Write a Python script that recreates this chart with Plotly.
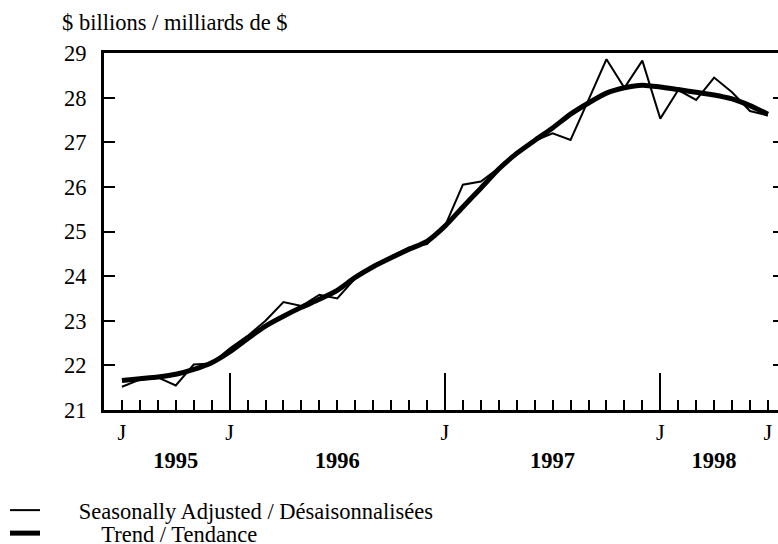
import plotly.graph_objects as go

# Monthly observations, July 1995 .. July 1998 (index 0 = July 1995)
month_index = list(range(37))
month_names = [
    "1995-07", "1995-08", "1995-09", "1995-10", "1995-11", "1995-12",
    "1996-01", "1996-02", "1996-03", "1996-04", "1996-05", "1996-06",
    "1996-07", "1996-08", "1996-09", "1996-10", "1996-11", "1996-12",
    "1997-01", "1997-02", "1997-03", "1997-04", "1997-05", "1997-06",
    "1997-07", "1997-08", "1997-09", "1997-10", "1997-11", "1997-12",
    "1998-01", "1998-02", "1998-03", "1998-04", "1998-05", "1998-06",
    "1998-07",
]

seasonally_adjusted = [
    21.52, 21.68, 21.73, 21.55, 22.02, 22.04,
    22.38, 22.66, 23.00, 23.42, 23.33, 23.58,
    23.50, 23.95, 24.22, 24.44, 24.64, 24.72,
    25.12, 26.05, 26.12, 26.42, 26.78, 27.03,
    27.20, 27.05, 27.95, 28.86, 28.22, 28.83,
    27.53, 28.17, 27.95, 28.45, 28.12, 27.70,
    27.60,
]

trend = [
    21.66, 21.70, 21.74, 21.80, 21.91, 22.06,
    22.30, 22.60, 22.88, 23.10, 23.30, 23.48,
    23.68, 23.97, 24.21, 24.41, 24.60, 24.78,
    25.12, 25.55, 25.97, 26.40, 26.75, 27.04,
    27.32, 27.63, 27.88, 28.10, 28.22, 28.28,
    28.24, 28.18, 28.12, 28.06, 27.97, 27.82,
    27.63,
]

y_tick_values = [21, 22, 23, 24, 25, 26, 27, 28, 29]
y_inner_ticks = [22, 23, 24, 25, 26, 27, 28]
j_label_positions = [0, 6, 18, 30, 36]
j_labels = ["J", "J", "J", "J", "J"]
january_positions = [6, 18, 30]
year_label_positions = [3, 12, 24, 33]
year_labels = ["1995", "1996", "1997", "1998"]

series_names = ["Seasonally Adjusted / Désaisonnalisées", "Trend / Tendance"]
title_text = "$ billions / milliards de $"

FONT = "Liberation Serif, Times New Roman, serif"
FS = 22.5
NB = "&nbsp;"

month_ticktext = [j_labels[j_label_positions.index(k)] if k in j_label_positions else ""
                  for k in month_index]

x_range = [-1, 36.56]

fig = go.Figure()
fig.add_trace(go.Scatter(
    x=month_index, y=seasonally_adjusted, mode="lines",
    name=NB * 6 + series_names[0], legend="legend",
    line=dict(color="black", width=2),
    hovertext=month_names,
))
fig.add_trace(go.Scatter(
    x=month_index, y=trend, mode="lines",
    name=NB * 10 + series_names[1], legend="legend2",
    line=dict(color="black", width=5, shape="spline", smoothing=0.6),
    hovertext=month_names,
))
# helper traces so that the overlay axes are drawn
fig.add_trace(go.Scatter(x=[None], y=[None], xaxis="x2", yaxis="y", showlegend=False, hoverinfo="skip"))
fig.add_trace(go.Scatter(x=[None], y=[None], xaxis="x3", yaxis="y", showlegend=False, hoverinfo="skip"))
fig.add_trace(go.Scatter(x=[None], y=[None], xaxis="x", yaxis="y2", showlegend=False, hoverinfo="skip"))

legend_common = dict(xref="container", yref="container", x=5 / 778, xanchor="left",
                     yanchor="top", font=dict(family=FONT, size=FS),
                     bgcolor="rgba(0,0,0,0)", itemwidth=30)

fig.update_layout(
    width=778, height=544,
    margin=dict(l=104, r=0, t=53, b=134, autoexpand=False),
    paper_bgcolor="white", plot_bgcolor="white",
    font=dict(family=FONT, size=FS, color="black"),
    title=dict(text=title_text, xref="container", yref="container",
               x=62 / 778, xanchor="left", y=1 - 22 / 544, yanchor="middle",
               font=dict(family=FONT, size=FS, color="black")),
    showlegend=True,
    legend=dict(y=1 - 489 / 544, **legend_common),
    legend2=dict(y=1 - 512 / 544, **legend_common),
    xaxis=dict(range=x_range, tickmode="array", tickvals=month_index, ticktext=month_ticktext,
               ticks="inside", ticklen=10, tickwidth=2, tickcolor="black",
               showline=True, linewidth=3, linecolor="black", mirror=True,
               showgrid=False, zeroline=False, ticklabelstandoff=0,
               tickfont=dict(family=FONT, size=FS)),
    xaxis2=dict(range=x_range, overlaying="x", anchor="y", side="bottom",
                tickmode="array", tickvals=january_positions, ticks="inside", ticklen=37,
                tickwidth=2, tickcolor="black", showticklabels=False,
                showline=False, showgrid=False, zeroline=False),
    xaxis3=dict(range=x_range, overlaying="x", anchor="y", side="bottom",
                tickmode="array", tickvals=year_label_positions,
                ticktext=["<b>" + t + "</b>" for t in year_labels],
                ticks="", showline=False, showgrid=False, zeroline=False,
                ticklabelstandoff=34, tickfont=dict(family=FONT, size=FS)),
    yaxis=dict(range=[21, 29], tickmode="array", tickvals=y_tick_values,
               ticks="inside", ticklen=11, tickwidth=2, tickcolor="black",
               showline=True, linewidth=3, linecolor="black",
               showgrid=False, zeroline=False, ticklabelstandoff=10,
               tickfont=dict(family=FONT, size=FS)),
    yaxis2=dict(range=[21, 29], overlaying="y", anchor="x", side="right",
                tickmode="array", tickvals=y_inner_ticks, ticks="inside", ticklen=5,
                tickwidth=2, tickcolor="black", showticklabels=False,
                showline=False, showgrid=False, zeroline=False),
)

fig.write_html("out.html", config={"displayModeBar": False},
               post_script="document.body.style.margin='0';")
